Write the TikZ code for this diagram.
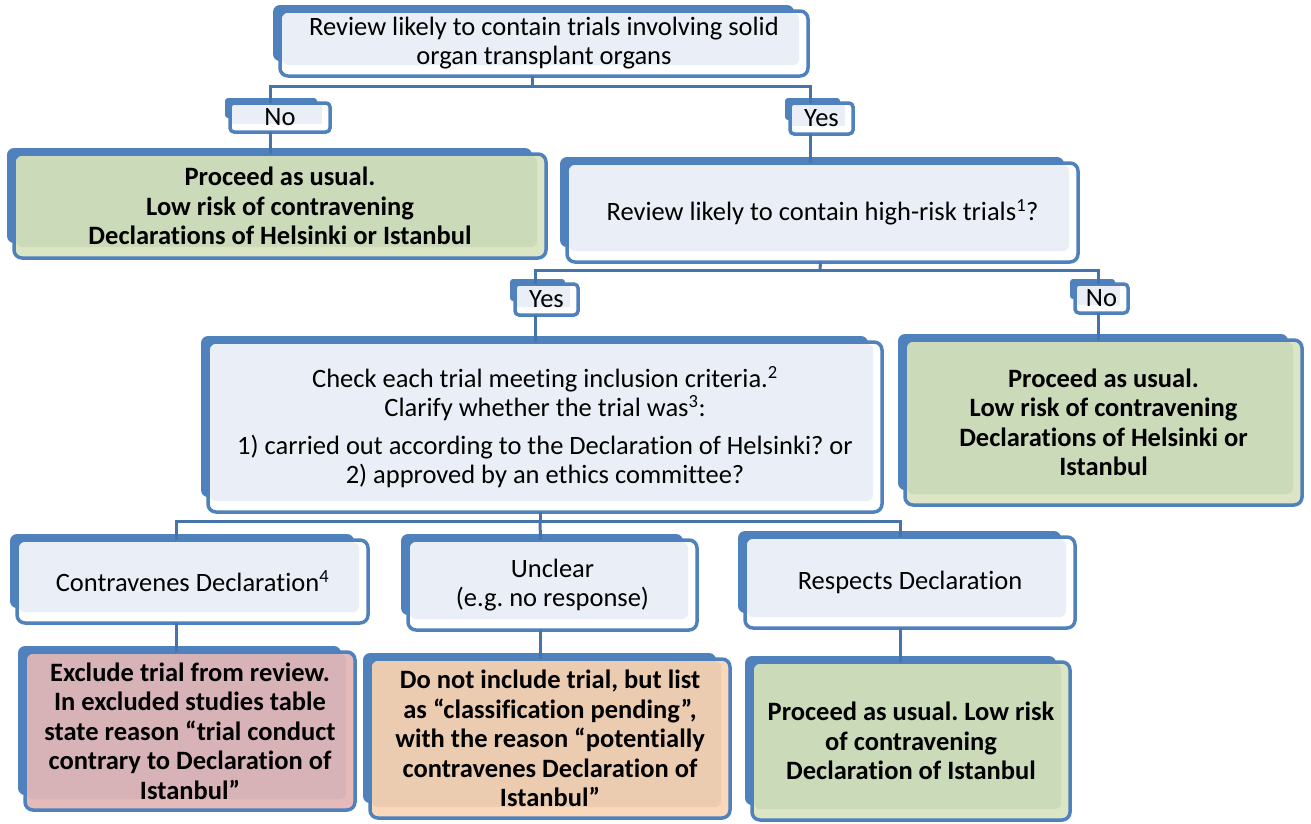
\documentclass[tikz,border=0pt]{standalone}
\usepackage{fontspec}
\setmainfont[Ligatures=NoCommon]{Carlito}
\frenchspacing
\definecolor{bxblue}{HTML}{4F81BD}
\definecolor{connc}{HTML}{4673AA}
\definecolor{bluein}{HTML}{EAEFF7}
\definecolor{bluelt}{HTML}{FFFFFF}
\definecolor{greenin}{HTML}{CBDAB9}
\definecolor{greenlt}{HTML}{DCE6C4}
\definecolor{pinkin}{HTML}{D7B2B7}
\definecolor{pinklt}{HTML}{E5BABA}
\definecolor{orangein}{HTML}{EBCCB1}
\definecolor{orangelt}{HTML}{FAD8BB}
\tikzset{
  txt/.style={align=center, inner sep=0pt, font=\fontsize{26.5}{29}\selectfont\frenchspacing},
  btxt/.style={align=center, inner sep=0pt, font=\fontsize{26.5}{29.5}\selectfont\bfseries\frenchspacing},
  conn/.style={draw=connc, line width=3pt},
}
% name, L, T, R, B, inner colour, light colour, node style, text
\newcommand\diabox[9]{%
  \fill[bxblue,rounded corners=7] (#2-7,#3-6) rectangle (#4-14,#5-15);
  \fill[#7,rounded corners=8] (#2,#3) rectangle (#4,#5);
  \fill[#6,rounded corners=6] (#2+2,#3+2) rectangle (#4-9,#5-11);
  \draw[bxblue,line width=3.5,rounded corners=8] (#2,#3) rectangle (#4,#5);
  \node[#8, minimum width={#4-#2}, minimum height={#5-#3}] (#1) at ({(#2+#4)/2},{(#3+#5)/2}) {#9};
}
\newcommand\labbox[6]{% name L T R B text
  \fill[bxblue,rounded corners=3] (#2-5,#3-5) rectangle (#4-13,#5-14);
  \fill[white,rounded corners=4] (#2,#3) rectangle (#4,#5);
  \fill[bluein] (#2+2,#3+2) rectangle (#4-8,#5-8);
  \draw[bxblue,line width=3.5,rounded corners=4] (#2,#3) rectangle (#4,#5);
  \node[txt, minimum width={#4-#2}, minimum height={#5-#3}] (#1) at ({(#2+#4)/2},{(#3+#5)/2}) {#6};
}
\begin{document}
\begin{tikzpicture}[x=1pt,y=-1pt]
\useasboundingbox (0,0) rectangle (1311,823);
\fill[white] (0,0) rectangle (1311,823);

\coordinate (b1) at (532,86);
\coordinate (b2) at (820,270);
\coordinate (b3) at (540,521);

\diabox{top}{280}{11}{808}{76}{bluein}{bluelt}{txt}{Review likely to contain trials involving solid\\organ transplant organs}
\labbox{no1}{230}{103}{330}{132}{No}
\labbox{yes1}{790}{103}{853}{134}{Yes}
\diabox{g1}{14}{154}{546}{258}{greenin}{greenlt}{btxt}{Proceed as usual.\\Low risk of contravening\\Declarations of Helsinki or Istanbul}
\diabox{hr}{567}{163}{1078}{262}{bluein}{bluelt}{txt}{Review likely to contain high-risk trials\textsuperscript{1}?}
\labbox{yes2}{515}{284}{578}{315}{Yes}
\labbox{no2}{1075}{284}{1128}{313}{No}
\diabox{chk}{208}{342}{882}{512}{bluein}{bluelt}{txt}{Check each trial meeting inclusion criteria.\textsuperscript{2}\\Clarify whether the trial was\textsuperscript{3}:\\[9pt]1) carried out according to the Declaration of Helsinki? or\\2) approved by an ethics committee?}
\diabox{g4}{905}{340}{1302}{505}{greenin}{greenlt}{btxt}{Proceed as usual.\\Low risk of contravening\\Declarations of Helsinki or\\Istanbul}
\diabox{c5}{17}{540}{368}{623}{bluein}{bluelt}{txt}{Contravenes Declaration\textsuperscript{4}}
\diabox{u6}{408}{540}{697}{630}{bluein}{bluelt}{txt}{Unclear\\(e.g. no response)}
\diabox{r7}{745}{537}{1075}{628}{bluein}{bluelt}{txt}{Respects Declaration}
\diabox{p8}{25}{652}{355}{810}{pinkin}{pinklt}{btxt}{Exclude trial from review.\\In excluded studies table\\state reason “trial conduct\\contrary to Declaration of\\Istanbul”}
\diabox{o9}{370}{659}{730}{818}{orangein}{orangelt}{btxt}{Do not include trial, but list\\as “classification pending”,\\with the reason “potentially\\contravenes Declaration of\\Istanbul”}
\diabox{g10}{752}{662}{1070}{820}{greenin}{greenlt}{btxt}{Proceed as usual. Low risk\\of contravening\\Declaration of Istanbul}

% connectors
\draw[conn] ([xshift=-12]top.south) -- (b1);
\draw[conn] ([xshift=-10]no1.north) |- (b1) -| ([xshift=-11]yes1.north);
\draw[conn] ([xshift=-10]no1.south) -- ([xshift=-10]no1.south |- g1.north);
\draw[conn] ([xshift=-11]yes1.south) -- ([xshift=-11]yes1.south |- hr.north);
\draw[conn] ([xshift=-2]hr.south) -- (b2);
\draw[conn] ([xshift=-11]yes2.north) |- (b2) -| ([xshift=-3]no2.north);
\draw[conn] ([xshift=-11]yes2.south) -- ([xshift=-11]yes2.south |- chk.north);
\draw[conn] ([xshift=-3]no2.south) -- ([xshift=-3]no2.south |- g4.north);
\draw[conn] ([xshift=-5]chk.south) -- (b3);
\draw[conn] ([xshift=-16]c5.north) |- (b3) -| ([xshift=-10]r7.north);
\draw[conn] (b3) -- ([xshift=-12]u6.north);
\draw[conn] ([xshift=-16]c5.south) -- ([xshift=-16]c5.south |- p8.north);
\draw[conn] ([xshift=-12]u6.south) -- ([xshift=-12]u6.south |- o9.north);
\draw[conn] ([xshift=-10]r7.south) -- ([xshift=-10]r7.south |- g10.north);
\end{tikzpicture}
\end{document}
